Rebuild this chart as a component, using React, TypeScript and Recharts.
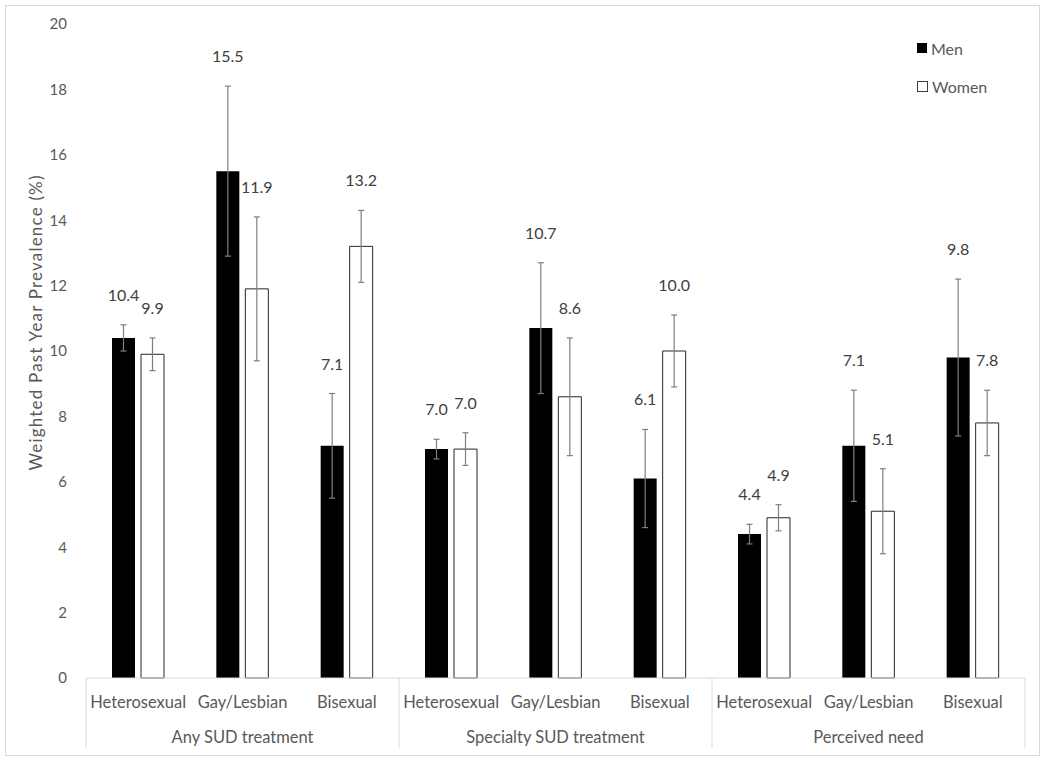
import React from 'react';
import { BarChart, Bar, XAxis, YAxis, ErrorBar, LabelList, Legend } from 'recharts';

const subgroups = ['Heterosexual', 'Gay/Lesbian', 'Bisexual', 'Heterosexual', 'Gay/Lesbian', 'Bisexual', 'Heterosexual', 'Gay/Lesbian', 'Bisexual'];
const groups = ['Any SUD treatment', 'Specialty SUD treatment', 'Perceived need'];
const men = [10.4, 15.5, 7.1, 7.0, 10.7, 6.1, 4.4, 7.1, 9.8];
const women = [9.9, 11.9, 13.2, 7.0, 8.6, 10.0, 4.9, 5.1, 7.8];
const menErr = [0.4, 2.6, 1.6, 0.3, 2.0, 1.5, 0.3, 1.7, 2.4];
const womenErr = [0.5, 2.2, 1.1, 0.5, 1.8, 1.1, 0.4, 1.3, 1.0];
const yTicks = [0, 2, 4, 6, 8, 10, 12, 14, 16, 18, 20];

const data = subgroups.map((s, i) => ({
  key: i,
  sub: s,
  men: men[i],
  women: women[i],
  menErr: menErr[i],
  womenErr: womenErr[i],
}));

const W = 1050;
const H = 762;
const MARGIN = { top: 24, right: 25, bottom: 14, left: 26 };
const Y_W = 60;
const X_H = 70;
const PLOT_LEFT = MARGIN.left + Y_W;
const PLOT_RIGHT = W - MARGIN.right;
const BAND = (PLOT_RIGHT - PLOT_LEFT) / subgroups.length;
const FONT = 'Lato, "Open Sans", sans-serif';
const TEXT = '#595959';

const XTick = (props: any) => {
  const { x, y, payload } = props;
  const i = payload.index ?? payload.value;
  const items: any[] = [];
  items.push(
    <text key="s" x={x} y={y + 30} textAnchor="middle" fill={TEXT} fontSize={16.5} fontFamily={FONT}>
      {subgroups[i]}
    </text>
  );
  if (i % 3 === 1) {
    items.push(
      <text key="g" x={x} y={y + 65} textAnchor="middle" fill={TEXT} fontSize={16.5} fontFamily={FONT}>
        {groups[Math.floor(i / 3)]}
      </text>
    );
  }
  if (i % 3 === 0) {
    items.push(<line key="l" x1={x - BAND / 2} x2={x - BAND / 2} y1={y} y2={y + 70} stroke="#d9d9d9" strokeWidth={1} />);
  }
  if (i === subgroups.length - 1) {
    items.push(<line key="r" x1={x + BAND / 2} x2={x + BAND / 2} y1={y} y2={y + 70} stroke="#d9d9d9" strokeWidth={1} />);
  }
  return <g>{items}</g>;
};

const makeLabel = (errs: number[]) => (props: any) => {
  const { x, y, width, height, value, index } = props;
  const pxPerUnit = height / value;
  const top = y - errs[index] * pxPerUnit;
  return (
    <text x={x + width / 2} y={top - 24} textAnchor="middle" fill="#404040" fontSize={16} fontFamily={FONT}>
      {Number(value).toFixed(1)}
    </text>
  );
};

const LegendContent = () => (
  <div style={{ fontFamily: FONT, fontSize: 16, color: TEXT }}>
    <div style={{ display: 'flex', alignItems: 'center', height: 20 }}>
      <span style={{ display: 'inline-block', width: 10, height: 10, background: '#000', marginRight: 4 }} />
      Men
    </div>
    <div style={{ display: 'flex', alignItems: 'center', height: 20, marginTop: 18 }}>
      <span style={{ display: 'inline-block', width: 9, height: 9, background: '#fff', border: '1px solid #404040', marginRight: 4 }} />
      Women
    </div>
  </div>
);

const YTitle = () => (
  <text
    x={38}
    y={323}
    transform="rotate(-90 38 323)"
    textAnchor="middle"
    dominantBaseline="middle"
    fill={TEXT}
    fontSize={17}
    fontFamily={FONT}
    textLength={295}
    lengthAdjust="spacing"
  >
    Weighted Past Year Prevalence (%)
  </text>
);

export default function App() {
  return (
    <div style={{ position: 'absolute', left: 0, top: 0, width: W, height: H, background: '#fff' }}>
      <div style={{ position: 'absolute', left: 5, top: 5, width: 1035, height: 751, border: '1px solid #d9d9d9', boxSizing: 'border-box' }} />
      <div style={{ position: 'absolute', left: 0, top: 0 }}>
        <BarChart width={W} height={H} data={data} margin={MARGIN} barSize={23} barGap={6}>
          <XAxis
            dataKey="key"
            type="category"
            height={X_H}
            axisLine={{ stroke: '#d9d9d9' }}
            tickLine={false}
            tickSize={0}
            tickMargin={0}
            interval={0}
            tick={<XTick />}
          />
          <YAxis
            width={Y_W}
            domain={[0, 20]}
            ticks={yTicks}
            axisLine={false}
            tickLine={false}
            tickSize={0}
            tickMargin={19}
            tick={{ fill: TEXT, fontSize: 15, fontFamily: FONT }}
            label={{ value: 'Weighted Past Year Prevalence (%)', content: <YTitle /> }}
          />
          <Legend
            layout="vertical"
            verticalAlign="middle"
            align="center"
            content={<LegendContent />}
            wrapperStyle={{ position: 'absolute', left: 917, top: 38, width: 100 }}
          />
          <Bar dataKey="men" name="Men" fill="#000" isAnimationActive={false}>
            <ErrorBar dataKey="menErr" width={3} stroke="#7f7f7f" strokeWidth={1.2} direction="y" />
            <LabelList dataKey="men" content={makeLabel(menErr)} />
          </Bar>
          <Bar dataKey="women" name="Women" fill="#fff" stroke="#262626" strokeWidth={1} isAnimationActive={false}>
            <ErrorBar dataKey="womenErr" width={3} stroke="#7f7f7f" strokeWidth={1.2} direction="y" />
            <LabelList dataKey="women" content={makeLabel(womenErr)} />
          </Bar>
        </BarChart>
      </div>
    </div>
  );
}
